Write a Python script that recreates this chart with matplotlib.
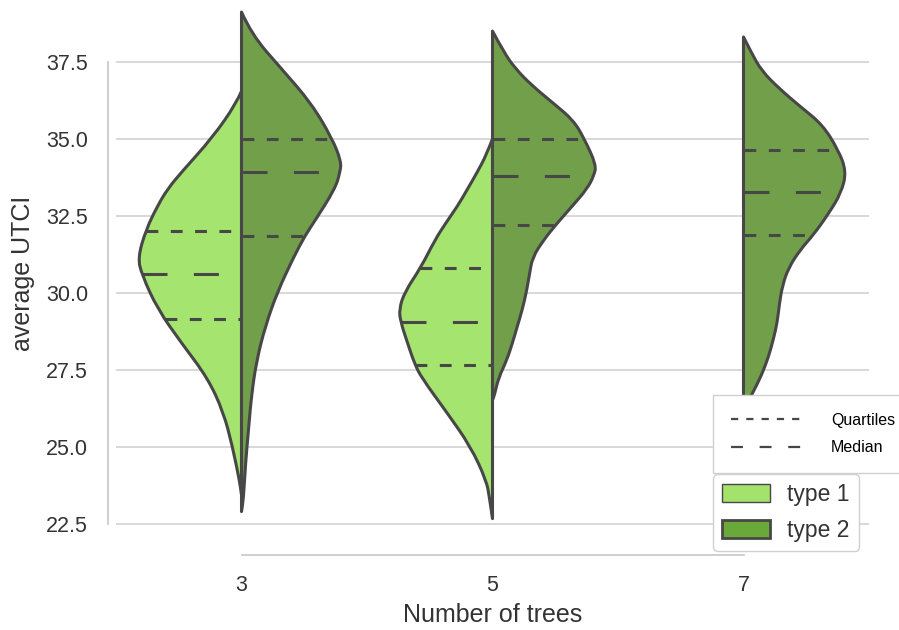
import matplotlib
matplotlib.use("Agg")
import matplotlib.pyplot as plt
import numpy as np
from matplotlib.lines import Line2D
from matplotlib.patches import Patch, PathPatch
from matplotlib.path import Path

plt.rcParams["font.family"] = ["Liberation Sans", "DejaVu Sans"]
plt.rcParams["lines.scale_dashes"] = False

# --- data -----------------------------------------------------------------
CATEGORIES = ["3", "5", "7"]
SERIES = ["type 1", "type 2"]

# violin half-profiles: y value (average UTCI) and half-width (category units)
T1_3_Y = [36.55, 36.16, 35.05, 33.93, 33.38, 32.82, 32.06, 31.15, 30.59, 29.47,
          28.36, 27.24, 26.13, 25.01, 23.90, 23.45]
T1_3_W = [0.0, 0.020, 0.115, 0.238, 0.294, 0.335, 0.380, 0.413, 0.397, 0.334,
          0.238, 0.135, 0.072, 0.036, 0.008, 0.0]

T2_3_Y = [39.12, 38.39, 37.28, 36.16, 35.00, 34.27, 33.93, 33.38, 32.26, 31.87,
          31.15, 30.03, 28.92, 27.80, 26.69, 25.57, 24.46, 23.34, 22.90]
T2_3_W = [0.0, 0.040, 0.159, 0.278, 0.362, 0.397, 0.393, 0.373, 0.286, 0.254,
          0.207, 0.143, 0.095, 0.060, 0.040, 0.028, 0.016, 0.008, 0.0]

T1_5_Y = [35.00, 34.49, 33.93, 33.38, 32.82, 32.26, 31.71, 30.83, 30.03, 29.47,
          29.06, 28.36, 27.69, 27.24, 26.13, 25.01, 23.90, 23.34, 22.67]
T1_5_W = [0.0, 0.024, 0.060, 0.099, 0.139, 0.187, 0.230, 0.285, 0.350, 0.372,
          0.366, 0.338, 0.310, 0.282, 0.183, 0.087, 0.024, 0.012, 0.0]

T2_5_Y = [38.50, 37.83, 37.28, 36.72, 36.16, 35.61, 35.00, 34.16, 33.82, 33.38,
          32.82, 32.23, 31.71, 31.15, 30.59, 30.03, 29.47, 28.92, 28.36, 27.80,
          27.24, 26.69, 26.52]
T2_5_W = [0.0, 0.044, 0.091, 0.159, 0.242, 0.322, 0.366, 0.413, 0.405, 0.377,
          0.318, 0.254, 0.203, 0.159, 0.147, 0.135, 0.119, 0.099, 0.079, 0.056,
          0.024, 0.008, 0.0]

T2_7_Y = [38.31, 37.79, 37.21, 36.63, 36.05, 35.47, 34.65, 33.95, 33.26, 32.56,
          31.88, 31.40, 30.81, 30.23, 29.65, 29.07, 28.49, 27.91, 27.33, 26.74,
          26.20]
T2_7_W = [0.0, 0.032, 0.072, 0.143, 0.226, 0.314, 0.377, 0.410, 0.390, 0.338,
          0.278, 0.226, 0.179, 0.155, 0.143, 0.135, 0.119, 0.099, 0.072, 0.036,
          0.0]

# lower quartile / median / upper quartile
T1_3_Q = [32.02, 30.62, 29.14]
T2_3_Q = [35.00, 33.92, 31.85]
T1_5_Q = [30.82, 29.06, 27.66]
T2_5_Q = [35.00, 33.80, 32.22]
T2_7_Q = [34.65, 33.27, 31.88]

# --- styling --------------------------------------------------------------
C_T1 = "#a5e46e"
C_T2 = "#72a04a"
C_T1_LEG = "#a3e36b"
C_T2_LEG = "#6aa83a"
EDGE = "#474747"
GRID = "#d6d6d6"
TEXT = "#333333"
LW = 2.2
QDASH = (8.5, 9.0)
MDASH = (18.0, 19.0)


def smooth_outline(xs, ys):
    """Quadratic-bezier path through the read-off outline points."""
    verts = [(xs[0], ys[0])]
    codes = [Path.MOVETO]
    for i in range(1, len(xs) - 1):
        mid = ((xs[i] + xs[i + 1]) / 2, (ys[i] + ys[i + 1]) / 2)
        verts += [(xs[i], ys[i]), mid]
        codes += [Path.CURVE3, Path.CURVE3]
    verts.append((xs[-1], ys[-1]))
    codes.append(Path.LINETO)
    return verts, codes


def draw_half(ax, pos, ys, ws, side, color, quarts):
    ys = np.asarray(ys)
    ws = np.asarray(ws)
    sign = -1 if side == "left" else 1
    xs = pos + sign * ws
    verts, codes = smooth_outline(xs, ys)
    # close the shape along the centre line
    verts += [(pos, ys[0]), (pos, ys[0])]
    codes += [Path.LINETO, Path.CLOSEPOLY]
    ax.add_patch(PathPatch(Path(verts, codes), facecolor=color, edgecolor=EDGE,
                           lw=LW, joinstyle="round", capstyle="round", zorder=2))

    # width of the drawn outline at each quartile
    curve = Path(*smooth_outline(xs, ys)).to_polygons(closed_only=False)[0]
    cy, cw = curve[:, 1], np.abs(curve[:, 0] - pos)
    order = np.argsort(cy)
    for q, dash in zip(quarts, [QDASH, MDASH, QDASH]):
        w = np.interp(q, cy[order], cw[order])
        x0, x1 = sorted([pos, pos + sign * w])
        ax.plot([x0, x1], [q, q], color=EDGE, lw=LW, dashes=dash, zorder=3,
                dash_capstyle="butt")


fig = plt.figure(figsize=(8.99, 6.3), dpi=100)
ax = fig.add_axes([116 / 899, 83 / 630, 753 / 899, 547 / 630])

draw_half(ax, 0, T1_3_Y, T1_3_W, "left", C_T1, T1_3_Q)
draw_half(ax, 0, T2_3_Y, T2_3_W, "right", C_T2, T2_3_Q)
draw_half(ax, 1, T1_5_Y, T1_5_W, "left", C_T1, T1_5_Q)
draw_half(ax, 1, T2_5_Y, T2_5_W, "right", C_T2, T2_5_Q)
draw_half(ax, 2, T2_7_Y, T2_7_W, "right", C_T2, T2_7_Q)

ax.set_xlim(-0.5, 2.5)
ax.set_ylim(21.75, 39.51)
ax.set_xticks(range(len(CATEGORIES)))
ax.set_xticklabels(CATEGORIES)
ax.set_yticks(np.arange(22.5, 37.6, 2.5))
ax.yaxis.grid(True, color=GRID, lw=1.3, zorder=0)
ax.xaxis.grid(False)
ax.set_axisbelow(True)
ax.tick_params(length=0, labelsize=15.5, labelcolor=TEXT, pad=14)

for side in ["top", "right"]:
    ax.spines[side].set_visible(False)
for side in ["left", "bottom"]:
    ax.spines[side].set_position(("outward", 6))
    ax.spines[side].set_color("#cccccc")
    ax.spines[side].set_linewidth(1.3)
ax.spines["left"].set_bounds(22.5, 37.5)
ax.spines["bottom"].set_bounds(0, 2)

ax.set_xlabel("Number of trees", fontsize=18, color=TEXT, labelpad=5)
ax.set_ylabel("average UTCI", fontsize=18, color=TEXT, labelpad=8)

# legend for the inner lines
line_handles = [
    Line2D([], [], color=EDGE, lw=1.6, dashes=(5.2, 5.8)),
    Line2D([], [], color=EDGE, lw=1.6, dashes=(8.6, 12.0)),
]
leg1 = fig.legend(line_handles, ["Quartiles", "Median"],
                  loc="upper left",
                  bbox_to_anchor=(713 / 899, 1 - 395 / 630 - 0.01, 200 / 899, 0.01),
                  mode="expand", fontsize=11.5, handlelength=4.4,
                  handletextpad=1.9, labelspacing=0.8, borderpad=1.1,
                  borderaxespad=0, fancybox=False, edgecolor="#d0d0d0",
                  framealpha=1.0)
leg1.get_frame().set_linewidth(1.0)

patch_handles = [
    Patch(facecolor=C_T1_LEG, edgecolor=EDGE, lw=1.0),
    Patch(facecolor=C_T2_LEG, edgecolor=EDGE, lw=2.0),
]
leg2 = fig.legend(patch_handles, SERIES, loc="upper left",
                  bbox_to_anchor=(713 / 899, 1 - 474 / 630),
                  fontsize=16.5, handlelength=2.1, handleheight=0.8,
                  handletextpad=0.75, labelspacing=0.55, borderpad=0.4,
                  borderaxespad=0, fancybox=True, edgecolor="#d0d0d0",
                  framealpha=1.0)
for t in leg2.get_texts():
    t.set_color(TEXT)

fig.savefig("out.png", dpi=100)
